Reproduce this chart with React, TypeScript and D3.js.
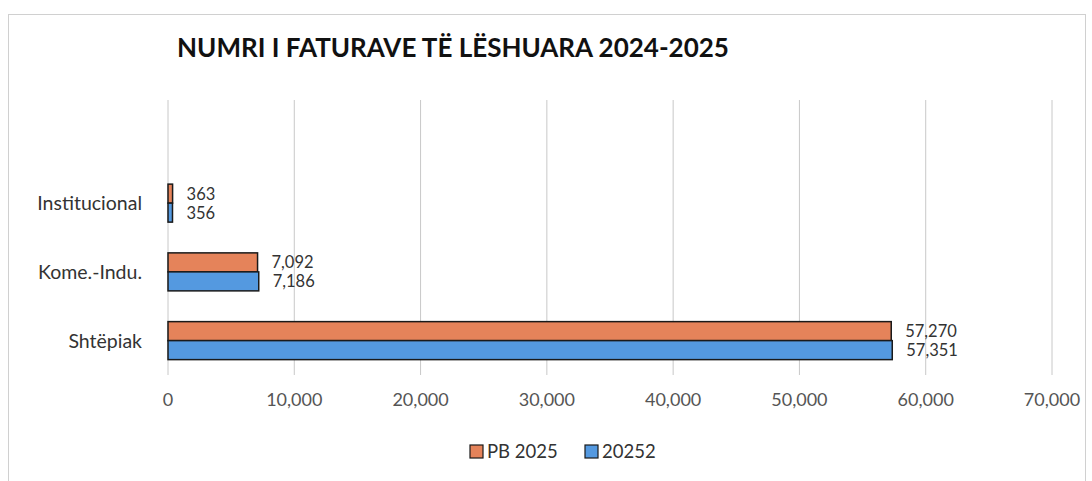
import React from "react";
import * as d3 from "d3";

const categories = ["Shtëpiak", "Kome.-Indu.", "Institucional", ""];
const seriesNames = ["PB 2025", "20252"];
const pb2025 = [57270, 7092, 363, null];
const y20252 = [57351, 7186, 356, null];
const xTicks = [0, 10000, 20000, 30000, 40000, 50000, 60000, 70000];
const colors = ["#E5835A", "#5499E0"];
const title = "NUMRI I FATURAVE TË LËSHUARA 2024-2025";

const W = 1092;
const H = 481;
const FONT = "Lato, 'Open Sans', sans-serif";

export default function App() {
  const x = d3.scaleLinear().domain([0, 70000]).range([168, 1052]);
  const order = [...categories].reverse(); // top to bottom
  const y = d3.scaleBand<string>().domain(order.map((c, i) => c + "#" + i)).range([100, 375]);
  const fmt = d3.format(",");
  const groupH = 38;
  const barH = groupH / 2;

  const rows = categories.map((c, i) => ({
    cat: c,
    key: c + "#" + (categories.length - 1 - i),
    vals: [pb2025[i], y20252[i]],
  }));

  return (
    <svg width={W} height={H} style={{ position: "absolute", left: 0, top: 0, background: "#fff" }}>
      <rect x={8.5} y={14.5} width={1077} height={480} fill="#fff" stroke="#d0d0d0" strokeWidth={1} />
      <text x={453} y={57} textAnchor="middle" fontFamily={FONT} fontWeight="bold" fontSize={26} fill="#111">
        {title}
      </text>
      {xTicks.map((t) => (
        <g key={t}>
          <line x1={x(t)} x2={x(t)} y1={100} y2={375} stroke="#c8c8c8" strokeWidth={1} />
          <text x={x(t)} y={406} textAnchor="middle" fontFamily={FONT} fontSize={18} fill="#555">
            {fmt(t)}
          </text>
        </g>
      ))}
      {rows.map((r) => {
        const cy = (y(r.key) as number) + y.bandwidth() / 2;
        if (r.vals[0] == null) return null;
        return (
          <g key={r.key}>
            <text x={142} y={cy + 7} textAnchor="end" fontFamily={FONT} fontSize={19.5} fill="#333">
              {r.cat}
            </text>
            {r.vals.map((v, j) => (
              <rect
                key={j}
                x={x(0)}
                y={cy - groupH / 2 + j * barH}
                width={x(v as number) - x(0)}
                height={barH}
                fill={colors[j]}
                stroke="#1a1a1a"
                strokeWidth={1.5}
              />
            ))}
            {r.vals.map((v, j) => (
              <text
                key={"l" + j}
                x={x(v as number) + 14}
                y={cy - groupH / 2 + j * barH + barH / 2 + 6}
                fontFamily={FONT}
                fontSize={16.5}
                fill="#333"
              >
                {fmt(v as number)}
              </text>
            ))}
          </g>
        );
      })}
      {seriesNames.map((s, i) => {
        const lx = i === 0 ? 470 : 585;
        return (
          <g key={s}>
            <rect x={lx} y={445} width={13} height={13} fill={colors[i]} stroke="#1a1a1a" strokeWidth={1.2} />
            <text x={lx + 17} y={458} fontFamily={FONT} fontSize={18.5} fill="#333">
              {s}
            </text>
          </g>
        );
      })}
    </svg>
  );
}
